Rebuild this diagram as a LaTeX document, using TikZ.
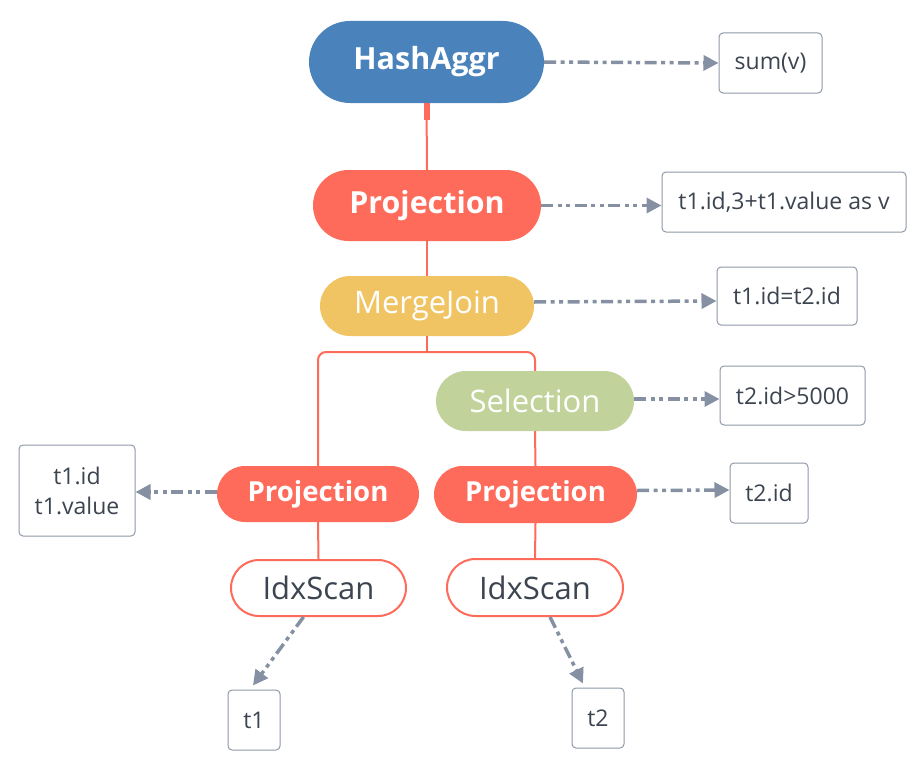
\documentclass[tikz,border=0pt]{standalone}
\usepackage{fontspec}
\setmainfont{Open Sans}
\usetikzlibrary{arrows.meta,shapes.misc,calc}
\definecolor{hblue}{HTML}{4A83BB}
\definecolor{pred}{HTML}{FF6B5B}
\definecolor{myel}{HTML}{F0C463}
\definecolor{sgreen}{HTML}{C1D39A}
\definecolor{agray}{HTML}{8591A3}
\definecolor{bgray}{HTML}{8F99A8}
\definecolor{tdark}{HTML}{3C4450}
\begin{document}
\begin{tikzpicture}[x=1pt,y=-1pt,
  pill/.style={rounded rectangle, inner sep=0pt, font=\fontsize{31}{36}\selectfont},
  opnode/.style={pill, text=white},
  scannode/.style={pill, draw=pred, line width=2pt, fill=white, text=tdark},
  infobox/.style={draw=bgray, line width=1pt, rounded corners=4pt, fill=white, text=tdark, inner sep=0pt, font=\fontsize{23}{30}\selectfont, align=center},
  edge/.style={draw=pred, line width=2pt},
  infoarrow/.style={draw=agray, line width=3.5pt, dash pattern=on 12pt off 4.5pt on 4pt off 4.5pt on 4pt off 4.5pt, -{Triangle[length=15pt,width=15pt]}}
]
\useasboundingbox (0,0) rectangle (913,760);

% operator nodes
\node[opnode, fill=hblue, minimum width=235pt, minimum height=82pt, font=\fontsize{30.5}{36}\selectfont\bfseries] (ha) at (426.5,62) {HashAggr};
\node[opnode, fill=pred, minimum width=228pt, minimum height=71pt, font=\fontsize{30.4}{36}\selectfont\bfseries] (p0) at (427,205.5) {Projection};
\node[opnode, fill=myel, minimum width=214pt, minimum height=60pt] (mj) at (427,306) {MergeJoin};
\node[opnode, fill=sgreen, minimum width=198pt, minimum height=60pt] (sel) at (535,401) {Selection};
\node[opnode, fill=pred, minimum width=202pt, minimum height=56pt, font=\fontsize{27.6}{32}\selectfont\bfseries] (p1) at (318,494) {Projection};
\node[opnode, fill=pred, minimum width=203pt, minimum height=57pt, font=\fontsize{27.6}{32}\selectfont\bfseries] (p2) at (535.5,494.5) {Projection};
\node[scannode, minimum width=175pt, minimum height=56pt] (s1) at (318.5,588) {IdxScan};
\node[scannode, minimum width=176pt, minimum height=57pt] (s2) at (535,587.5) {IdxScan};

% info boxes
\node[infobox, minimum width=103pt, minimum height=60pt] (b0) at (770.5,63) {sum(v)};
\node[infobox, minimum width=244pt, minimum height=60pt] (b1) at (784,202) {t1.id,3+t1.value as v};
\node[infobox, minimum width=140pt, minimum height=58pt] (b2) at (787,296) {t1.id=t2.id};
\node[infobox, minimum width=145pt, minimum height=59pt] (b3) at (792.5,395.5) {t2.id>5000};
\node[infobox, minimum width=78pt, minimum height=60pt] (b4) at (769,493) {t2.id};
\node[infobox, minimum width=116pt, minimum height=91pt] (b5) at (77,490.5) {t1.id\\t1.value};
\node[infobox, minimum width=52pt, minimum height=60pt] (b6) at (254,720) {t1};
\node[infobox, minimum width=52pt, minimum height=60pt] (b7) at (598,718) {t2};

% tree edges
\coordinate (br) at (427,352);
\draw[edge] (ha.south) -- (p0.north);
\draw[draw=pred, line width=6pt] (ha.south) -- ++(0,17);
\draw[edge] (p0.south) -- (mj.north);
\draw[edge] (mj.south) -- (br);
\draw[edge, rounded corners=8pt] (p1.north) |- (br) -| (sel.north);
\draw[edge] (sel.south) -- (p2.north);
\draw[edge] (p1.south) -- (s1.north);
\draw[edge] (p2.south) -- (s2.north);

% info arrows
\draw[infoarrow] (ha.east) -- (b0.west);
\draw[infoarrow] (p0.east) -- (b1.west |- p0.east);
\draw[infoarrow] ($(mj.east)+(0,-4)$) -- ($(b2.west)+(0,5)$);
\draw[infoarrow] ($(sel.east)+(0,-2)$) -- ($(b3.west)+(0,3.5)$);
\draw[infoarrow] ($(p2.east)+(0,-4)$) -- ($(b4.west)+(0,-3)$);
\draw[infoarrow] ($(p1.west)+(0,-2)$) -- ($(b5.east)+(0,1.5)$);
\draw[infoarrow] ($(s1.south)+(-15,0)$) -- ($(b6.north)+(-1,-4)$);
\draw[infoarrow] ($(s2.south)+(15,0)$) -- ($(b7.north)+(-15,-4)$);
\end{tikzpicture}
\end{document}
